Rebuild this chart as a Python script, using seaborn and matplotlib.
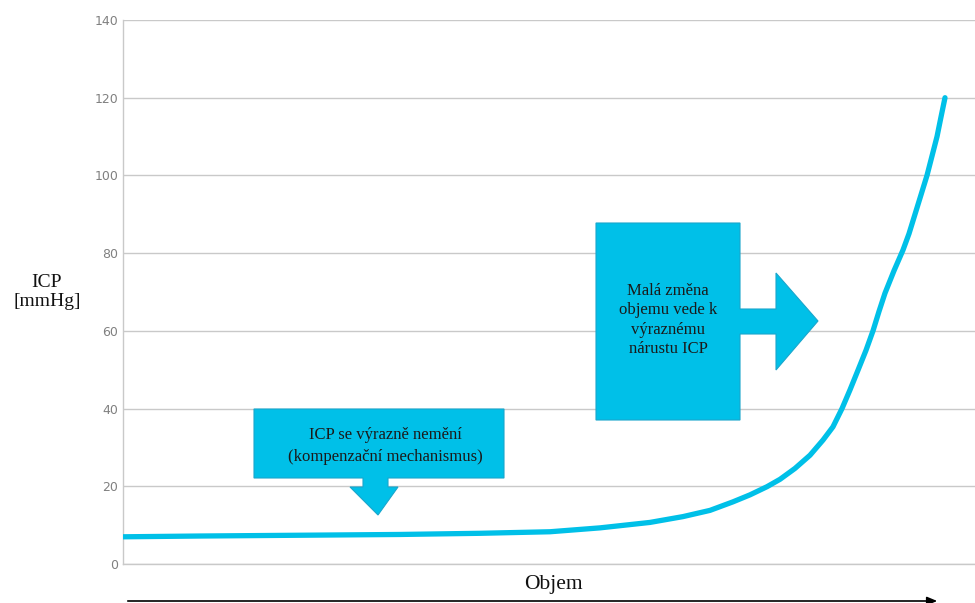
import numpy as np
import pandas as pd
import matplotlib
matplotlib.use("Agg")
import matplotlib.pyplot as plt
from matplotlib.patches import Polygon, FancyArrowPatch
import seaborn as sns

# Pressure-volume curve (volume in relative units, ICP in mmHg)
volume = [0, 9.37, 21.53, 33.70, 43.43, 51.95, 58.03, 64.11, 68.13, 71.41,
          74.21, 76.28, 78.35, 79.93, 81.75, 83.58, 85.16, 86.37, 87.47,
          88.44, 89.42, 90.39, 91.24, 91.97, 92.70, 93.80, 94.89, 95.62,
          96.35, 97.08, 97.81, 98.42, 99.03, 99.51, 100]
icp = [7.0, 7.2, 7.4, 7.6, 7.9, 8.3, 9.3, 10.7, 12.2, 13.8,
       16.0, 17.8, 19.9, 21.8, 24.6, 28.0, 31.9, 35.3, 40.0,
       44.8, 49.9, 55.0, 60.0, 65.0, 69.7, 75.5, 80.8, 85.0,
       90.0, 95.0, 100.0, 105.0, 110.0, 115.0, 120.0]
y_ticks = [0, 20, 40, 60, 80, 100, 120, 140]

note_flat = "ICP se výrazně nemění\n(kompenzační mechanismus)"
note_steep = "Malá změna\nobjemu vede k\nvýraznému\nnárustu ICP"

CYAN = "#00C0E8"
EDGE = "#1AA6CC"

sns.set_theme(style="whitegrid")
plt.rcParams["font.family"] = ["DejaVu Sans"]

W, H = 975, 603
fig = plt.figure(figsize=(W / 100, H / 100), dpi=100)
ax = fig.add_axes([123 / W, 1 - 564 / H, 1 - 123 / W, (564 - 20) / H])

df = pd.DataFrame({"volume": volume, "icp": icp})
sns.lineplot(data=df, x="volume", y="icp", ax=ax, color=CYAN,
             linewidth=3.8, solid_capstyle="round", solid_joinstyle="round",
             zorder=3)

ax.set_xlim(0, (975 - 123) / (945 - 123) * 100)
ax.set_ylim(0, 140)
ax.set_yticks(y_ticks)
ax.set_xticks([])
ax.set_xlabel("")
ax.set_ylabel("")
ax.tick_params(axis="y", length=0, pad=3.5, labelsize=9, labelcolor="#808080")
ax.grid(axis="y", color="#C9C9C9", linewidth=1.0)
ax.grid(axis="x", visible=False)
for side in ("top", "right"):
    ax.spines[side].set_visible(False)
for side in ("left", "bottom"):
    ax.spines[side].set_color("#C9C9C9")
    ax.spines[side].set_linewidth(1.0)


def fx(px):
    return px / W


def fy(py):
    return 1 - py / H


serif = ["Liberation Serif", "DejaVu Serif"]

fig.text(fx(47), fy(292), "ICP\n[mmHg]", ha="center", va="center",
         fontsize=14, family=serif, color="#111111", linespacing=1.2)
fig.text(fx(553), fy(584), "Objem", ha="center", va="center",
         fontsize=15.5, family=serif, color="#111111")

# Volume direction arrow along the bottom edge
fig.patches.append(FancyArrowPatch((fx(125), fy(601)), (fx(940), fy(601)),
                                   transform=fig.transFigure,
                                   arrowstyle="-|>,head_length=6,head_width=2.5",
                                   color="black", linewidth=1.2))


def callout(pts):
    fig.patches.append(Polygon([(fx(x), fy(y)) for x, y in pts], closed=True,
                               transform=fig.transFigure, facecolor=CYAN,
                               edgecolor=EDGE, linewidth=0.8, zorder=5))


# Callout with downward arrow
callout([(254, 409), (504, 409), (504, 478), (388, 478), (388, 487),
         (398, 487), (378, 515), (350, 487), (363, 487), (363, 478),
         (254, 478)])
fig.text(fx(385), fy(446), note_flat, ha="center", va="center",
         fontsize=12, family=serif, color="#1a1a1a", zorder=6,
         linespacing=1.42)

# Callout with rightward arrow
callout([(596, 223), (740, 223), (740, 309), (776, 309), (776, 273),
         (818, 321), (776, 370), (776, 334), (740, 334), (740, 420),
         (596, 420)])
fig.text(fx(668), fy(320), note_steep, ha="center", va="center",
         fontsize=12, family=serif, color="#1a1a1a", zorder=6,
         linespacing=1.28)

fig.savefig("out.png", dpi=100)
